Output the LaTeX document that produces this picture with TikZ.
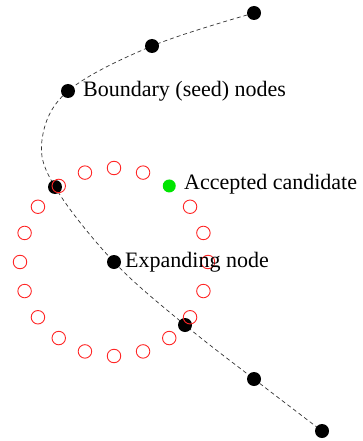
\documentclass[tikz,border=0pt]{standalone}
\usepackage{fontspec}
\setmainfont{Liberation Serif}
\begin{document}
\begin{tikzpicture}[x=1pt,y=-1pt,
  blackdot/.style={circle,fill=black,inner sep=0pt,minimum size=14pt},
  greendot/.style={circle,fill=green!90!black,inner sep=0pt,minimum size=13pt},
  cand/.style={circle,draw=red!85,line width=0.9pt,inner sep=0pt,minimum size=13.5pt},
  lbl/.style={font=\fontsize{22}{24}\selectfont,anchor=west,inner sep=0pt},
  pathline/.style={dashed,dash pattern=on 4pt off 3pt,line width=0.7pt,black!80}]
\useasboundingbox (0,0) rectangle (362,441);
\draw[pathline] plot[smooth,tension=0.6] coordinates {(254,13) (152,46) (68,91) (42,140) (55,187) (114,262) (185,325) (254,379) (322,431)};
\node[greendot] (g) at ({114+94*cos(54)},{262-94*sin(54)}) {};
\node[blackdot] (n1) at (254,13) {};
\node[blackdot] (n2) at (152,46) {};
\node[blackdot] (n3) at (68,91) {};
\node[blackdot] (n4) at (55,187) {};
\node[blackdot] (n5) at (114,262) {};
\node[blackdot] (n6) at (185,325) {};
\node[blackdot] (n7) at (254,379) {};
\node[blackdot] (n8) at (322,431) {};
\foreach \a in {0,18,36,72,90,108,126,144,162,180,198,216,234,252,270,288,306,324,342}
  \node[cand] (c\a) at ({114+94*cos(\a)},{262-94*sin(\a)}) {};
\node[lbl] (t1) at (83,91) {Boundary (seed) nodes};
\node[lbl] (t2) at (184,184) {Accepted candidate};
\node[lbl] (t3) at (125,262) {Expanding node};
\end{tikzpicture}
\end{document}
